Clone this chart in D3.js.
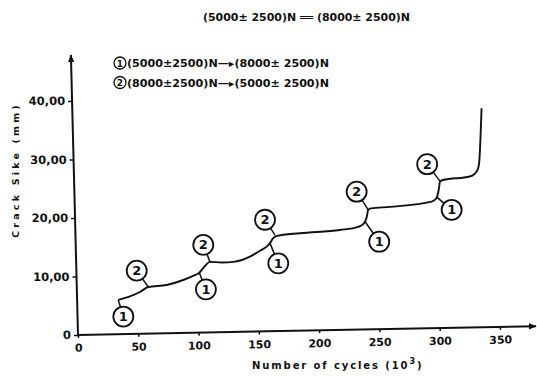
<!DOCTYPE html>
<html>
<head>
<meta charset="utf-8">
<script src="https://cdn.jsdelivr.net/npm/d3@7"></script>
<style>
  body { margin: 0; background: #fff; }
  svg text { font-family: "DejaVu Sans", sans-serif; font-weight: bold; fill: #111; }
</style>
</head>
<body>
<div id="chart"></div>
<script>
// crack growth curve
const cycles = [33.4, 43.1, 51.4, 58.3, 73.5, 87.3, 95.4, 100.6, 104.5, 109.5,
                119.4, 128.8, 142.6, 150.9, 156.5, 159.2, 161.7, 164.2, 184.1, 217.2,
                232.4, 236.3, 238.4, 239.6, 240.7, 243.0, 258.7, 293.3, 296.4, 298.1,
                299.3, 300.2, 302.7, 325.0, 329.2, 331.9, 332.9, 334.7];
const crack = [6.0, 6.6, 7.35, 8.2, 8.55, 9.4, 10.1, 10.65, 11.6, 12.5,
               12.4, 12.5, 13.4, 14.4, 15.1, 15.7, 16.5, 16.9, 17.4, 17.95,
               18.5, 18.9, 19.5, 20.3, 21.4, 21.65, 21.9, 22.8, 23.2, 23.8,
               25.0, 26.2, 26.5, 27.1, 27.6, 28.5, 29.9, 38.75];

// load change markers: where they sit on the curve and where the circle is
const mark1At = [[33.4, 6.0], [100.6, 10.65], [159.2, 15.7], [238.0, 19.4], [297.4, 23.6]];
const mark1Pos = [[37.6, 3.15], [106.1, 7.8], [166.1, 12.25], [249.8, 15.95], [309.9, 21.4]];
const mark2At = [[58.3, 8.2], [109.5, 12.5], [163.3, 17.1], [240.7, 21.4], [300.2, 26.3]];
const mark2Pos = [[48.7, 11.0], [103.9, 15.4], [155.1, 19.7], [231.1, 24.5], [289.6, 29.2]];

const xTicks = [0, 50, 100, 150, 200, 250, 300, 350];
const yTicks = [0, 10, 20, 30, 40];
const yTickLabels = ["0", "10,00", "20,00", "30,00", "40,00"];

const title = "(5000\u00b1 2500)N \u2550\u2550 (8000\u00b1 2500)N";
const legend = ["(5000\u00b12500)N\u2014\u25b8(8000\u00b1 2500)N", "(8000\u00b12500)N\u2014\u25b8(5000\u00b1 2500)N"];

const W = 537, H = 378;
const svg = d3.select("#chart").append("svg").attr("width", W).attr("height", H);

const x = d3.scaleLinear().domain([0, 350]).range([78, 500]);
const y = d3.scaleLinear().domain([0, 40]).range([335, 101]);

// arrow heads
const defs = svg.append("defs");
defs.append("marker").attr("id", "arr").attr("viewBox", "0 0 10 10")
  .attr("refX", 9).attr("refY", 5).attr("markerWidth", 4).attr("markerHeight", 5)
  .attr("orient", "auto").attr("markerUnits", "strokeWidth")
  .append("path").attr("d", "M0,1 L10,5 L0,9 z").attr("fill", "#111");

// x axis (scan is slightly tilted)
const gx = svg.append("g").attr("transform", "rotate(-1.1,78,335)");
gx.append("line").attr("x1", 78).attr("y1", 335).attr("x2", 536).attr("y2", 335)
  .attr("stroke", "#111").attr("stroke-width", 2).attr("marker-end", "url(#arr)");
gx.append("g").attr("transform", "translate(0,335)")
  .call(d3.axisBottom(x).tickValues(xTicks).tickSize(3).tickPadding(6))
  .call(g => g.select(".domain").remove())
  .call(g => g.selectAll("line").attr("stroke", "#111").attr("stroke-width", 1.5))
  .call(g => g.selectAll("text").attr("font-size", 11).attr("font-family", "DejaVu Sans").attr("font-weight", "bold").attr("fill", "#111"));

// y axis
const gy = svg.append("g").attr("transform", "translate(78,335) skewX(1.45) translate(-78,-335)");
gy.append("line").attr("x1", 78).attr("y1", 336).attr("x2", 78).attr("y2", 55)
  .attr("stroke", "#111").attr("stroke-width", 2).attr("marker-end", "url(#arr)");
gy.append("g").attr("transform", "translate(78,0)")
  .call(d3.axisLeft(y).tickValues(yTicks).tickFormat((d, i) => yTickLabels[i]).tickSize(4).tickPadding(3))
  .call(g => g.select(".domain").remove())
  .call(g => g.selectAll("line").attr("stroke", "#111").attr("stroke-width", 1.5))
  .call(g => g.selectAll("text").attr("font-size", 11.5).attr("font-family", "DejaVu Sans").attr("font-weight", "bold").attr("fill", "#111"));

// axis titles
svg.append("text").attr("x", 252).attr("y", 369).attr("font-size", 10)
  .attr("letter-spacing", 1.9)
  .text("Number  of  cycles (10")
  .append("tspan").attr("dy", -5).attr("font-size", 8).text("3")
  .select(function() { return this.parentNode; })
  .append("tspan").attr("dy", 5).text(")");

svg.append("text").attr("transform", "translate(19,170) rotate(-90)")
  .attr("text-anchor", "middle").attr("font-size", 9.5).attr("letter-spacing", 3.2)
  .text("Crack  Sike (mm)");

// title and legend
svg.append("text").attr("x", 203).attr("y", 21).attr("font-size", 10.5)
  .attr("textLength", 207).attr("lengthAdjust", "spacingAndGlyphs").text(title);

legend.forEach((t, i) => {
  const cy = 63 + i * 19.5;
  svg.append("circle").attr("cx", 120).attr("cy", cy).attr("r", 6)
    .attr("fill", "none").attr("stroke", "#111").attr("stroke-width", 1.3);
  svg.append("text").attr("x", 120).attr("y", cy + 3.5).attr("text-anchor", "middle")
    .attr("font-size", 9).text(i + 1);
  svg.append("text").attr("x", 127).attr("y", cy + 4).attr("font-size", 10.5)
    .attr("textLength", 202).attr("lengthAdjust", "spacingAndGlyphs").text(t);
});

// curve
const pts = cycles.map((c, i) => [c, crack[i]]);
svg.append("path").datum(pts)
  .attr("fill", "none").attr("stroke", "#111").attr("stroke-width", 1.9)
  .attr("stroke-linejoin", "round")
  .attr("d", d3.line().x(d => x(d[0])).y(d => y(d[1])).curve(d3.curveMonotoneX));

// markers
const R = 10;
function drawMarks(at, pos, label) {
  at.forEach((a, i) => {
    const ax = x(a[0]), ay = y(a[1]);
    const px = x(pos[i][0]), py = y(pos[i][1]);
    const len = Math.hypot(px - ax, py - ay);
    const ex = px - (px - ax) * R / len, ey = py - (py - ay) * R / len;
    svg.append("line").attr("x1", ax).attr("y1", ay).attr("x2", ex).attr("y2", ey)
      .attr("stroke", "#111").attr("stroke-width", 1.5);
    svg.append("circle").attr("cx", px).attr("cy", py).attr("r", R)
      .attr("fill", "#fff").attr("stroke", "#111").attr("stroke-width", 1.8);
    svg.append("text").attr("x", px).attr("y", py + 4.5).attr("text-anchor", "middle")
      .attr("font-size", 13).text(label);
  });
}
drawMarks(mark1At, mark1Pos, "1");
drawMarks(mark2At, mark2Pos, "2");
</script>
</body>
</html>
